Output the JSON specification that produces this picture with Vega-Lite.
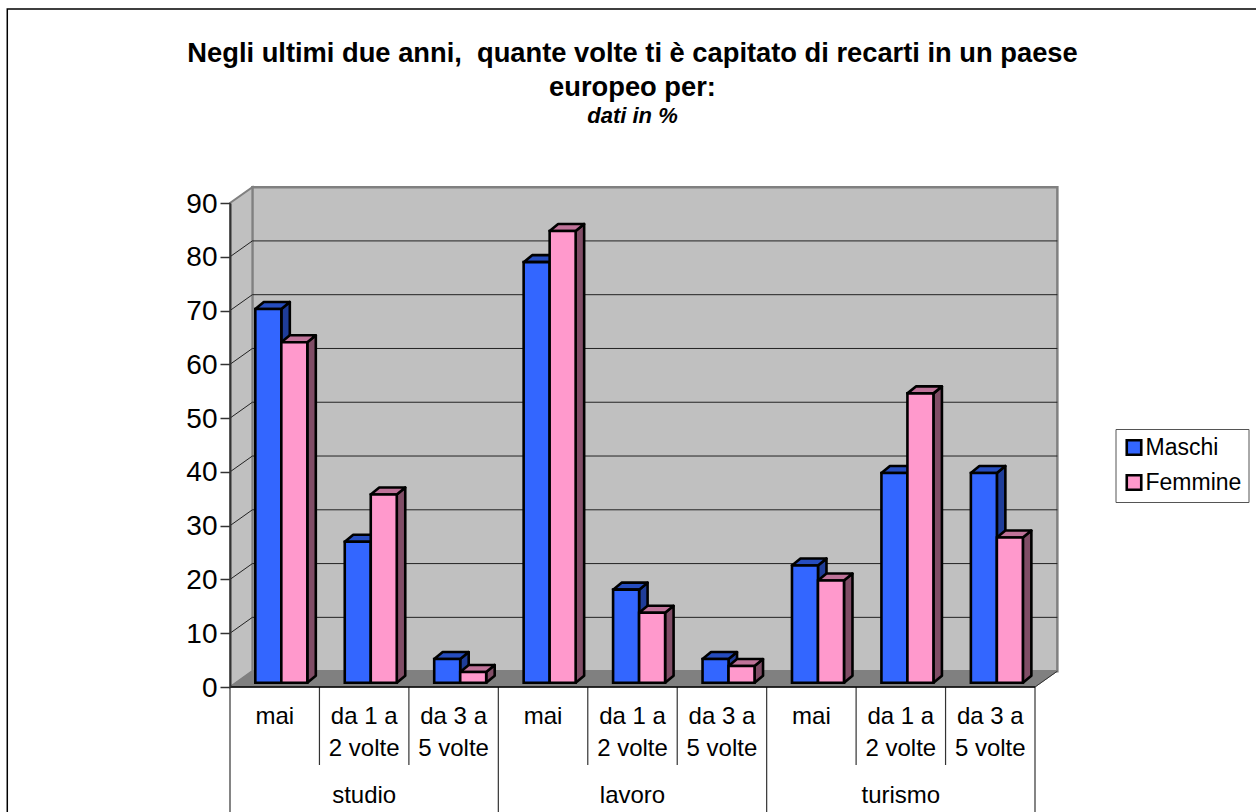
{
"$schema":"https://vega.github.io/schema/vega-lite/v6.json",
"width":805,"height":484,"autosize":{"type":"none"},
"padding":{"left":230,"top":203,"right":221,"bottom":125},
"background":"white",
"title":{"text":["Negli ultimi due anni,\u00a0 quante volte ti è capitato di recarti in un paese","europeo per:"],"subtitle":"dati in %","anchor":"middle","frame":"group","offset":-119,"font":"Liberation Sans","fontSize":27.3,"fontWeight":"bold","color":"black","lineHeight":34,"subtitleFont":"Liberation Sans","subtitleFontSize":22,"subtitleFontWeight":"bold","subtitleFontStyle":"italic","subtitleColor":"black","subtitlePadding":5},
"config":{"view":{"stroke":null},"axisX":{"disable":true},"font":"Liberation Sans"},
"datasets":{
"bars":[
{"area":"studio","freq":"mai","sex":"Maschi","value":69.5},
{"area":"studio","freq":"mai","sex":"Femmine","value":63.3},
{"area":"studio","freq":"da 1 a 2 volte","sex":"Maschi","value":26.2},
{"area":"studio","freq":"da 1 a 2 volte","sex":"Femmine","value":35},
{"area":"studio","freq":"da 3 a 5 volte","sex":"Maschi","value":4.4},
{"area":"studio","freq":"da 3 a 5 volte","sex":"Femmine","value":2},
{"area":"lavoro","freq":"mai","sex":"Maschi","value":78.2},
{"area":"lavoro","freq":"mai","sex":"Femmine","value":84},
{"area":"lavoro","freq":"da 1 a 2 volte","sex":"Maschi","value":17.3},
{"area":"lavoro","freq":"da 1 a 2 volte","sex":"Femmine","value":13},
{"area":"lavoro","freq":"da 3 a 5 volte","sex":"Maschi","value":4.4},
{"area":"lavoro","freq":"da 3 a 5 volte","sex":"Femmine","value":3.1},
{"area":"turismo","freq":"mai","sex":"Maschi","value":21.8},
{"area":"turismo","freq":"mai","sex":"Femmine","value":19},
{"area":"turismo","freq":"da 1 a 2 volte","sex":"Maschi","value":39},
{"area":"turismo","freq":"da 1 a 2 volte","sex":"Femmine","value":53.8},
{"area":"turismo","freq":"da 3 a 5 volte","sex":"Maschi","value":39},
{"area":"turismo","freq":"da 3 a 5 volte","sex":"Femmine","value":27}
],
"leftwall":[{"x":0,"lo":0,"hi":90},{"x":0.25,"lo":2.95,"hi":92.95}],
"floor":[{"y":0,"a":0,"b":9},{"y":2.95,"a":0.25,"b":9.25}],
"grid":[{"tick":10},{"tick":20},{"tick":30},{"tick":40},{"tick":50},{"tick":60},{"tick":70},{"tick":80},{"tick":90}],
"seps":[{"pos":0,"end":-23.5},{"pos":1,"end":-14.5},{"pos":2,"end":-14.5},{"pos":3,"end":-23.5},{"pos":4,"end":-14.5},{"pos":5,"end":-14.5},{"pos":6,"end":-23.5},{"pos":7,"end":-14.5},{"pos":8,"end":-14.5},{"pos":9,"end":-23.5}],
"labels":[
{"pos":0.5,"label":"mai"},{"pos":1.5,"label":"da 1 a|2 volte"},{"pos":2.5,"label":"da 3 a|5 volte"},
{"pos":3.5,"label":"mai"},{"pos":4.5,"label":"da 1 a|2 volte"},{"pos":5.5,"label":"da 3 a|5 volte"},
{"pos":6.5,"label":"mai"},{"pos":7.5,"label":"da 1 a|2 volte"},{"pos":8.5,"label":"da 3 a|5 volte"}],
"groups":[{"pos":1.5,"label":"studio"},{"pos":4.5,"label":"lavoro"},{"pos":7.5,"label":"turismo"}]
},
"layer":[
{"data":{"values":[{"l":-2.49,"r":12,"t":126.07,"b":-30}]},"mark":{"type":"rect","fill":"white","stroke":"black","strokeWidth":1.5},
 "encoding":{"x":{"field":"l","type":"quantitative","scale":{"domain":[0,9],"nice":false,"zero":false}},"x2":{"field":"r"},"y":{"field":"t","type":"quantitative","title":null,"scale":{"domain":[0,90],"nice":false,"zero":false},"axis":{"title":null,"values":[0,10,20,30,40,50,60,70,80,90],"grid":false,"zindex":1,"domainColor":"#333333","domainWidth":2,"tickColor":"#333333","tickSize":10,"tickWidth":1.5,"labelFontSize":28,"labelColor":"black","labelPadding":3,"labelOffset":1,"labelFont":"Liberation Sans"}},"y2":{"field":"b"}}},
{"data":{"values":[{"l":0.25,"r":9.25,"t":92.95,"b":2.95}]},"mark":{"type":"rect","fill":"#C0C0C0","stroke":"#808080","strokeWidth":2.5},
 "encoding":{"x":{"field":"l","type":"quantitative"},"x2":{"field":"r"},"y":{"field":"t","type":"quantitative","title":null},"y2":{"field":"b"}}},
{"data":{"name":"leftwall"},"mark":{"type":"area","orient":"vertical","fill":"#C0C0C0","stroke":"#808080","strokeWidth":2},
 "encoding":{"x":{"field":"x","type":"quantitative"},"y":{"field":"lo","type":"quantitative","title":null},"y2":{"field":"hi"}}},
{"data":{"name":"floor"},"mark":{"type":"area","orient":"horizontal","fill":"#808080","stroke":"#808080","strokeWidth":1},
 "encoding":{"y":{"field":"y","type":"quantitative","title":null},"x":{"field":"a","type":"quantitative"},"x2":{"field":"b"}}},
{"data":{"name":"grid"},"transform":[{"calculate":"datum.tick+2.95","as":"yb"},{"filter":"datum.tick<90"}],"mark":{"type":"rule","color":"#222222","strokeWidth":1},
 "encoding":{"x":{"datum":0.25,"type":"quantitative"},"x2":{"datum":9.25},"y":{"field":"yb","type":"quantitative","title":null}}},
{"data":{"name":"grid"},"transform":[{"calculate":"datum.tick+2.95","as":"yb"},{"filter":"datum.tick<90"}],"mark":{"type":"rule","color":"#222222","strokeWidth":1},
 "encoding":{"x":{"datum":0,"type":"quantitative"},"x2":{"datum":0.25},"y":{"field":"tick","type":"quantitative","title":null},"y2":{"field":"yb"}}},
{"data":{"values":[{"v":0,"w":2.95}]},"mark":{"type":"rule","color":"#333333","strokeWidth":1},
 "encoding":{"x":{"datum":9,"type":"quantitative"},"x2":{"datum":9.25},"y":{"field":"v","type":"quantitative","title":null},"y2":{"field":"w"}}},
{"data":{"name":"bars"},"transform":[
 {"calculate":"indexof(['studio','lavoro','turismo'],datum.area)*3+indexof(['mai','da 1 a 2 volte','da 3 a 5 volte'],datum.freq)","as":"i"},
 {"calculate":"datum.i+0.283+(datum.sex=='Maschi'?0:0.2907)","as":"xl"},
 {"calculate":"datum.xl+0.2907","as":"xr"},
 {"calculate":"datum.i+'-'+datum.sex","as":"bid"},
 {"calculate":"[0,1]","as":"k"},{"flatten":["k"]},
 {"calculate":"datum.xr+0.095*datum.k","as":"sx"},
 {"calculate":"datum.value+0.8+1.3*datum.k","as":"sy"},
 {"calculate":"0.8+1.3*datum.k","as":"sy0"}],
 "mark":{"type":"area","orient":"vertical","stroke":"black","strokeWidth":2.6,"strokeJoin":"round"},
 "encoding":{"x":{"field":"sx","type":"quantitative"},"y":{"field":"sy","type":"quantitative","title":null},"y2":{"field":"sy0"},"detail":{"field":"bid"},
 "fill":{"field":"sex","type":"nominal","legend":null,"scale":{"domain":["Maschi","Femmine"],"range":["#1F3D99","#804D66"]}}}},
{"data":{"name":"bars"},"transform":[
 {"calculate":"indexof(['studio','lavoro','turismo'],datum.area)*3+indexof(['mai','da 1 a 2 volte','da 3 a 5 volte'],datum.freq)","as":"i"},
 {"calculate":"datum.i+0.283+(datum.sex=='Maschi'?0:0.2907)","as":"xl"},
 {"calculate":"datum.i+'-'+datum.sex","as":"bid"},
 {"calculate":"[0,1]","as":"k"},{"flatten":["k"]},
 {"calculate":"datum.xl+0.095*datum.k","as":"tx"},
 {"calculate":"datum.xl+0.2907+0.095*datum.k","as":"tx2"},
 {"calculate":"datum.value+0.8+1.3*datum.k","as":"ty"}],
 "mark":{"type":"area","orient":"horizontal","stroke":"black","strokeWidth":2.6,"strokeJoin":"round"},
 "encoding":{"y":{"field":"ty","type":"quantitative","title":null},"x":{"field":"tx","type":"quantitative"},"x2":{"field":"tx2"},"detail":{"field":"bid"},
 "fill":{"field":"sex","type":"nominal","legend":null,"scale":{"domain":["Maschi","Femmine"],"range":["#264DBF","#BF7399"]}}}},
{"data":{"name":"bars"},"transform":[
 {"calculate":"indexof(['studio','lavoro','turismo'],datum.area)*3+indexof(['mai','da 1 a 2 volte','da 3 a 5 volte'],datum.freq)","as":"i"},
 {"calculate":"datum.i+0.283+(datum.sex=='Maschi'?0:0.2907)","as":"xl"},
 {"calculate":"datum.xl+0.2907","as":"xr"},
 {"calculate":"datum.value+0.8","as":"top"},
 {"calculate":"0.8","as":"base"}],
 "mark":{"type":"rect","stroke":"black","strokeWidth":2.6},
 "encoding":{"x":{"field":"xl","type":"quantitative"},"x2":{"field":"xr"},"y":{"field":"top","type":"quantitative","title":null},"y2":{"field":"base"},
 "fill":{"field":"sex","type":"nominal","title":null,"scale":{"domain":["Maschi","Femmine"],"range":["#3366FF","#FF99CC"]},
 "legend":{"orient":"none","legendX":885.5,"legendY":226,"title":null,"symbolType":"square","symbolSize":210,"symbolStrokeColor":"black","symbolStrokeWidth":2.6,"labelFontSize":23,"labelFont":"Liberation Sans","labelColor":"black","labelOffset":0,"rowPadding":10,"padding":7,"strokeColor":"#555555","fillColor":"white"}}}},
{"data":{"name":"seps"},"transform":[{"calculate":"0","as":"zero"}],"mark":{"type":"rule","color":"#333333","strokeWidth":1.2},
 "encoding":{"x":{"field":"pos","type":"quantitative"},"y":{"field":"zero","type":"quantitative","title":null},"y2":{"field":"end"}}},
{"data":{"values":[{"v":0}]},"mark":{"type":"rule","color":"black","strokeWidth":1.5},
 "encoding":{"x":{"datum":0,"type":"quantitative"},"x2":{"datum":9},"y":{"field":"v","type":"quantitative","title":null}}},
{"data":{"name":"labels"},"mark":{"type":"text","baseline":"top","dy":18,"lineBreak":"|","lineHeight":32,"fontSize":24,"font":"Liberation Sans","color":"black"},
 "encoding":{"x":{"field":"pos","type":"quantitative"},"y":{"datum":0,"type":"quantitative","title":null},"text":{"field":"label"}}},
{"data":{"name":"groups"},"mark":{"type":"text","baseline":"top","dy":97,"fontSize":24,"font":"Liberation Sans","color":"black"},
 "encoding":{"x":{"field":"pos","type":"quantitative"},"y":{"datum":0,"type":"quantitative","title":null},"text":{"field":"label"}}}
],
"resolve":{"scale":{"fill":"independent"}}
}
